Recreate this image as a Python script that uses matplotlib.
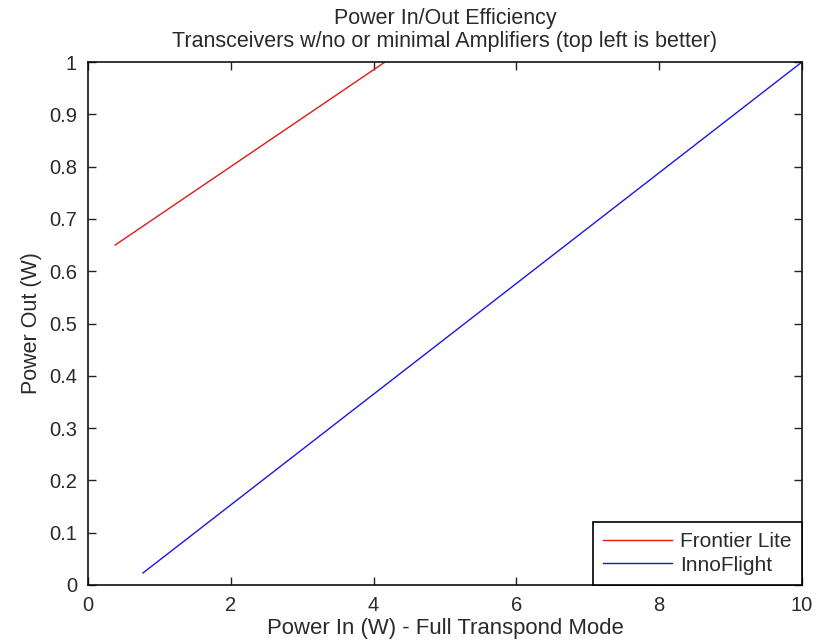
import numpy as np
import matplotlib.pyplot as plt

# line end points
frontier_x = [0.38, 4.16]
frontier_y = [0.65, 1.0]
inno_x = [0.77, 10.0]
inno_y = [0.023, 1.0]

x_ticks = [0, 2, 4, 6, 8, 10]
y_ticks = np.round(np.arange(0, 1.01, 0.1), 1)
y_labels = ['0', '0.1', '0.2', '0.3', '0.4', '0.5', '0.6', '0.7', '0.8', '0.9', '1']

plt.rcParams['font.family'] = ['Liberation Sans', 'DejaVu Sans']
plt.rcParams['font.size'] = 14.5

txt = '#2a2a2a'

fig = plt.figure(figsize=(8.25, 6.43), dpi=100)
ax = fig.add_axes([88 / 825, 1 - 585 / 643, (802 - 88) / 825, (585 - 62) / 643])

ax.plot(frontier_x, frontier_y, color='#e01818', lw=1, label='Frontier Lite')
ax.plot(inno_x, inno_y, color='#1818e0', lw=1, label='InnoFlight')

ax.set_xlim(0, 10)
ax.set_ylim(0, 1)
ax.set_xticks(x_ticks)
ax.set_yticks(y_ticks)
ax.set_yticklabels(y_labels)
ax.tick_params(direction='in', top=True, right=True, length=6, width=1, colors='#222222',
               labelcolor=txt, labelsize=14.5)
ax.tick_params(axis='x', pad=8)
ax.tick_params(axis='y', pad=8)
for s in ax.spines.values():
    s.set_color('#111111')
    s.set_linewidth(1.2)

ax.set_title('Power In/Out Efficiency\nTransceivers w/no or minimal Amplifiers (top left is better)',
             color=txt, fontsize=15.5, pad=10.5, linespacing=1.13)
ax.set_xlabel('Power In (W) - Full Transpond Mode', color=txt, fontsize=15.9, labelpad=2)
ax.set_ylabel('Power Out (W)', color=txt, fontsize=15.5, labelpad=5)

leg = ax.legend(loc='lower right', fancybox=False, framealpha=1, edgecolor='black',
                borderaxespad=0, handlelength=3.3, borderpad=0.5, labelspacing=0.22,
                handletextpad=0.4, fontsize=15)
leg.get_frame().set_linewidth(1.2)
for t in leg.get_texts():
    t.set_color(txt)

fig.savefig('out.png', dpi=100)
